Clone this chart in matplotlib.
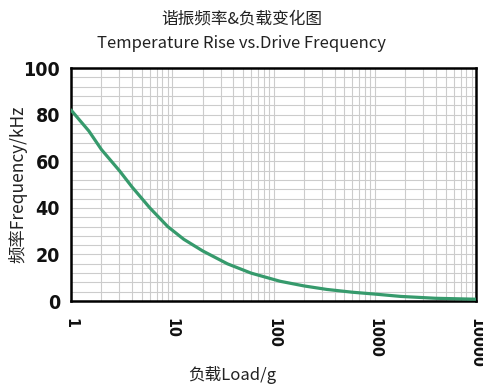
import matplotlib.pyplot as plt
import numpy as np
from matplotlib.ticker import FixedLocator, MultipleLocator, NullFormatter

# 数据
carga = [1, 1.5, 2, 3, 4, 6, 9, 13, 20, 35, 60, 116, 200, 335, 600, 1000, 1800, 4000, 10000]
frecuencia = [82, 73, 65, 56, 49, 40, 32, 26.5, 21.5, 16, 12, 8.5, 6.5, 5, 3.8, 3, 2, 1.2, 0.8]

x_ticks = [1, 10, 100, 1000, 10000]
x_labels = ['1', '10', '100', '1000', '10000']
y_ticks = [0, 20, 40, 60, 80, 100]

plt.rcParams['font.family'] = ['Noto Sans CJK SC', 'DejaVu Sans']
fuente_num = ['Liberation Sans Narrow', 'DejaVu Sans']

fig = plt.figure(figsize=(4.83, 3.89), dpi=100)
ax = fig.add_axes([0.147, 0.226, 0.839, 0.599])

ax.plot(carga, frecuencia, color='#369a6c', linewidth=2.3, solid_capstyle='round', zorder=3)

ax.set_xscale('log')
ax.set_xlim(1, 10000)
ax.set_ylim(0, 100)

ax.xaxis.set_major_locator(FixedLocator(x_ticks))
ax.set_xticklabels(x_labels, rotation=270, fontweight='bold', fontsize=11.5,
                   family=fuente_num, fontstretch='condensed', color='#111111')
ax.xaxis.set_minor_formatter(NullFormatter())
ax.set_yticks(y_ticks)
ax.set_yticklabels([str(v) for v in y_ticks], fontweight='bold', fontsize=14,
                   family=fuente_num, fontstretch='condensed', color='#111111')
ax.yaxis.set_minor_locator(MultipleLocator(4))

ax.grid(True, which='both', color='#cccccc', linewidth=0.8)
ax.tick_params(which='both', length=0)
ax.tick_params(axis='x', pad=12)
ax.tick_params(axis='y', pad=8)

for lado in ['left', 'top', 'right', 'bottom']:
    ax.spines[lado].set_linewidth(1.8)
    ax.spines[lado].set_color('black')

fig.text(0.5, 0.952, '谐振频率&负载变化图', ha='center', va='center', fontsize=12, color='#222222')
fig.text(0.5, 0.888, 'Temperature Rise vs.Drive Frequency', ha='center', va='center',
         fontsize=12, color='#222222')
fig.text(0.037, 0.525, '频率Frequency/kHz', rotation=90, ha='center', va='center',
         fontsize=12.5, color='#222222')
fig.text(0.48, 0.035, '负载Load/g', ha='center', va='center', fontsize=12, color='#222222')

fig.savefig('out.png', dpi=100)
